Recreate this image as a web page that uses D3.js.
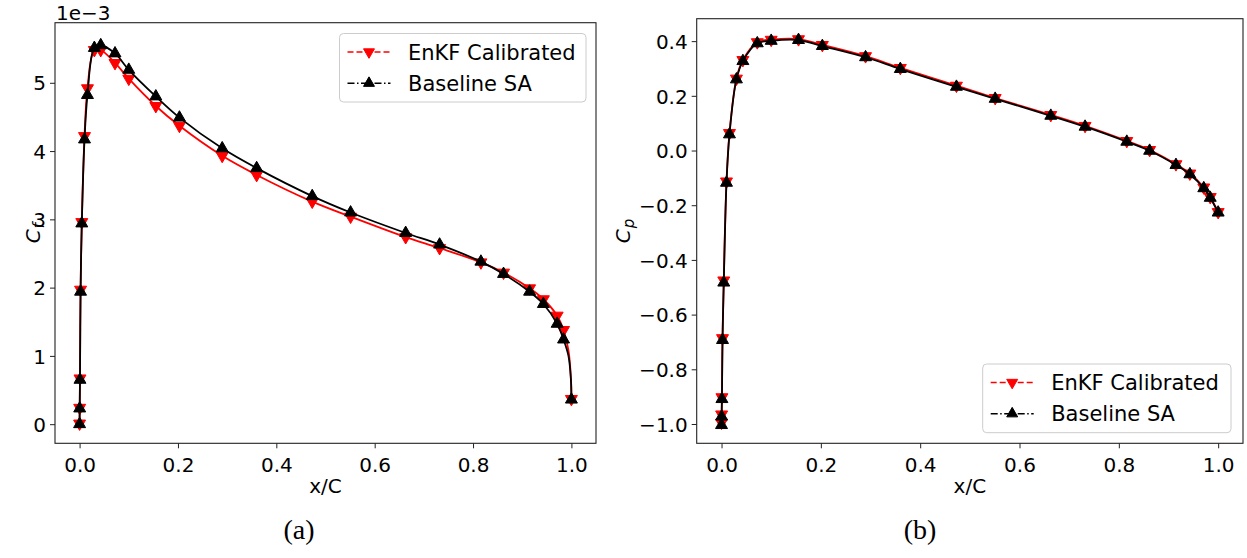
<!DOCTYPE html>
<html>
<head>
<meta charset="utf-8">
<script src="https://cdn.jsdelivr.net/npm/d3@7/dist/d3.min.js"></script>
<style>
    body { margin: 0; background: #fff; }
    svg text { font-family: "DejaVu Sans", sans-serif; fill: #000; }
</style>
</head>
<body>
<svg id="fig" width="1247" height="558"></svg>
<script>
// x/C stations of the markers (same for both panels)
const xPos = [0, 0.0002, 0.0008, 0.002, 0.0045, 0.010, 0.016, 0.030, 0.043, 0.072, 0.100, 0.155, 0.203,
    0.290, 0.360, 0.473, 0.551, 0.663, 0.732, 0.816, 0.862, 0.915, 0.943, 0.971, 0.984, 1.0];

// skin friction, in units of 1e-3
const cfEnkf = [0.01, 0.24, 0.67, 1.97, 2.96, 4.22, 4.92, 5.48, 5.48, 5.29, 5.06, 4.66, 4.37,
    3.93, 3.65, 3.26, 3.04, 2.74, 2.58, 2.37, 2.22, 1.99, 1.83, 1.59, 1.38, 0.37];
const cfBaseline = [0.0, 0.23, 0.65, 1.94, 2.94, 4.17, 4.82, 5.51, 5.55, 5.43, 5.19, 4.80, 4.49,
    4.04, 3.75, 3.34, 3.10, 2.80, 2.63, 2.38, 2.20, 1.94, 1.76, 1.47, 1.24, 0.36];

// trailing edge, where Cf falls almost straight down (line only, no markers)
const cfEdgeX = [0.994, 0.999];
const cfEnkfEdge = [1.08, 0.68];
const cfBaselineEdge = [1.0, 0.65];

// pressure coefficient
const cpEnkf = [-0.995, -0.965, -0.902, -0.686, -0.475, -0.113, 0.064, 0.263, 0.331, 0.396, 0.405, 0.407, 0.386,
    0.345, 0.302, 0.237, 0.192, 0.130, 0.090, 0.035, 0.002, -0.050, -0.084, -0.135, -0.170, -0.225];
const cpBaseline = [-1.004, -0.973, -0.909, -0.693, -0.483, -0.118, 0.059, 0.260, 0.327, 0.392, 0.401, 0.404, 0.382,
    0.341, 0.298, 0.233, 0.189, 0.127, 0.087, 0.032, -0.001, -0.053, -0.087, -0.138, -0.173, -0.227];

const xTicks = [0, 0.2, 0.4, 0.6, 0.8, 1.0];
const cfTicks = [0, 1, 2, 3, 4, 5];
const cpTicks = [-1.0, -0.8, -0.6, -0.4, -0.2, 0.0, 0.2, 0.4];
const seriesNames = ["EnKF Calibrated", "Baseline SA"];
const seriesColors = ["#ff0000", "#000000"];

function withEdge(xs, ys, ex, ey){
    let pts = xs.map((x, i) => [x, ys[i]]);
    if(!ex) return pts;
    let last = pts.pop();
    ex.forEach((x, i) => pts.push([x, ey[i]]));
    pts.push(last);
    return pts;
}

class Panel {
    constructor(_config){
        this.config = _config;
        this.initVis();
    }

    initVis(){
        let vis = this;
        let c = vis.config;
        vis.svg = d3.select('#fig');
        vis.g = vis.svg.append('g');

        vis.xScale = d3.scaleLinear().domain([-0.05, 1.05]).range([c.left, c.right]);
        vis.yScale = d3.scaleLinear().domain(c.yDomain).range([c.bottom, c.top]);

        // axes
        let xAxis = d3.axisBottom(vis.xScale).tickValues(xTicks).tickFormat(d3.format('.1f'))
            .tickSize(5).tickPadding(4);
        let yAxis = d3.axisLeft(vis.yScale).tickValues(c.yTicks).tickFormat(c.yFormat)
            .tickSize(5).tickPadding(4);

        vis.g.append('g')
            .attr('transform', `translate(0,${c.bottom})`)
            .call(xAxis)
            .call(g => g.select('.domain').remove())
            .call(g => g.selectAll('line').attr('stroke', '#222'))
            .call(g => g.selectAll('text').attr('font-size', 20).attr('dy', '0.98em')
                .attr('font-family', '"DejaVu Sans", sans-serif'));

        vis.g.append('g')
            .attr('transform', `translate(${c.left},0)`)
            .call(yAxis)
            .call(g => g.select('.domain').remove())
            .call(g => g.selectAll('line').attr('stroke', '#222'))
            .call(g => g.selectAll('text').attr('font-size', 20).attr('dy', '0.36em')
                .attr('font-family', '"DejaVu Sans", sans-serif'));

        // frame
        vis.g.append('rect')
            .attr('x', c.left).attr('y', c.top)
            .attr('width', c.right - c.left).attr('height', c.bottom - c.top)
            .attr('fill', 'none').attr('stroke', '#222').attr('stroke-width', 1.1);

        // labels
        vis.g.append('text')
            .attr('x', (c.left + c.right) / 2).attr('y', 492.5)
            .attr('text-anchor', 'middle').attr('font-size', 20)
            .text('x/C');

        let yl = vis.g.append('text')
            .attr('transform', `translate(${c.yLabelX},${(c.top + c.bottom) / 2}) rotate(-90)`)
            .attr('text-anchor', 'middle').attr('font-size', 20);
        yl.append('tspan').attr('font-style', 'italic').text('C');
        yl.append('tspan').attr('font-style', 'italic').attr('font-size', 15).attr('dx', 1).attr('dy', 4).text(c.ySub);

        if(c.offsetText){
            vis.g.append('text')
                .attr('x', c.left + 1).attr('y', 19.5)
                .attr('font-size', 20).text(c.offsetText);
        }

        vis.g.append('text')
            .attr('x', c.captionX).attr('y', 539)
            .attr('text-anchor', 'middle').attr('font-size', 28)
            .style('font-family', '"Liberation Serif", serif')
            .text(c.caption);

        vis.updateVis();
    }

    updateVis(){
        let vis = this;
        let c = vis.config;

        let line = d3.line()
            .x(d => vis.xScale(d[0]))
            .y(d => vis.yScale(d[1]))
            .curve(d3.curveCatmullRom.alpha(0.5));

        let tri = d3.symbol().type(d3.symbolTriangle).size(62);

        c.series.forEach((s, i) => {
            vis.g.append('path')
                .attr('d', line(withEdge(xPos, s.values, s.edgeX, s.edgeY)))
                .attr('fill', 'none')
                .attr('stroke', seriesColors[i])
                .attr('stroke-width', 1.8);

            vis.g.selectAll(null)
                .data(xPos.map((x, k) => [x, s.values[k]]))
                .join('path')
                    .attr('d', tri)
                    .attr('transform', d => `translate(${vis.xScale(d[0])},${vis.yScale(d[1])}) rotate(${i == 0 ? 180 : 0})`)
                    .attr('fill', seriesColors[i])
                    .attr('stroke', seriesColors[i])
                    .attr('stroke-width', 1);
        });

        vis.drawLegend();
    }

    drawLegend(){
        let vis = this;
        let L = vis.config.legend;
        let lg = vis.g.append('g');

        lg.append('rect')
            .attr('x', L.x).attr('y', L.y)
            .attr('width', L.w).attr('height', L.h)
            .attr('rx', 4).attr('ry', 4)
            .attr('fill', 'white').attr('fill-opacity', 0.8)
            .attr('stroke', '#cccccc').attr('stroke-width', 1);

        let dashes = ['6,3', '7,2.5,1.5,2.5'];
        let tri = d3.symbol().type(d3.symbolTriangle).size(52);

        seriesNames.forEach((name, i) => {
            let cy = L.y + 18.5 + i * 31.2;
            lg.append('line')
                .attr('x1', L.x + 8).attr('x2', L.x + 51)
                .attr('y1', cy).attr('y2', cy)
                .attr('stroke', seriesColors[i]).attr('stroke-width', 1.6)
                .attr('stroke-dasharray', dashes[i]);
            lg.append('path')
                .attr('d', tri)
                .attr('transform', `translate(${L.x + 29.5},${cy}) rotate(${i == 0 ? 180 : 0})`)
                .attr('fill', seriesColors[i])
                .attr('stroke', seriesColors[i]);
            lg.append('text')
                .attr('x', L.x + 68.5).attr('y', cy + 7.6)
                .attr('font-size', 21)
                .text(name);
        });
    }
}

new Panel({
    left: 55, right: 596, top: 22.7, bottom: 443.3,
    yDomain: [-0.28, 5.88],
    yTicks: cfTicks, yFormat: d3.format('d'),
    ySub: 'f', yLabelX: 40,
    offsetText: '1e\u22123',
    caption: '(a)', captionX: 299,
    legend: {x: 339.5, y: 33.5, w: 246.5, h: 68.5},
    series: [
        {values: cfEnkf, edgeX: cfEdgeX, edgeY: cfEnkfEdge},
        {values: cfBaseline, edgeX: cfEdgeX, edgeY: cfBaselineEdge}
    ]
});

new Panel({
    left: 696.7, right: 1243, top: 18.7, bottom: 443.3,
    yDomain: [-1.0706, 0.482],
    yTicks: cpTicks, yFormat: d3.format('.1f'),
    ySub: 'p', yLabelX: 630,
    caption: '(b)', captionX: 920,
    legend: {x: 982.7, y: 364, w: 248.3, h: 68.7},
    series: [
        {values: cpEnkf},
        {values: cpBaseline}
    ]
});
</script>
</body>
</html>
